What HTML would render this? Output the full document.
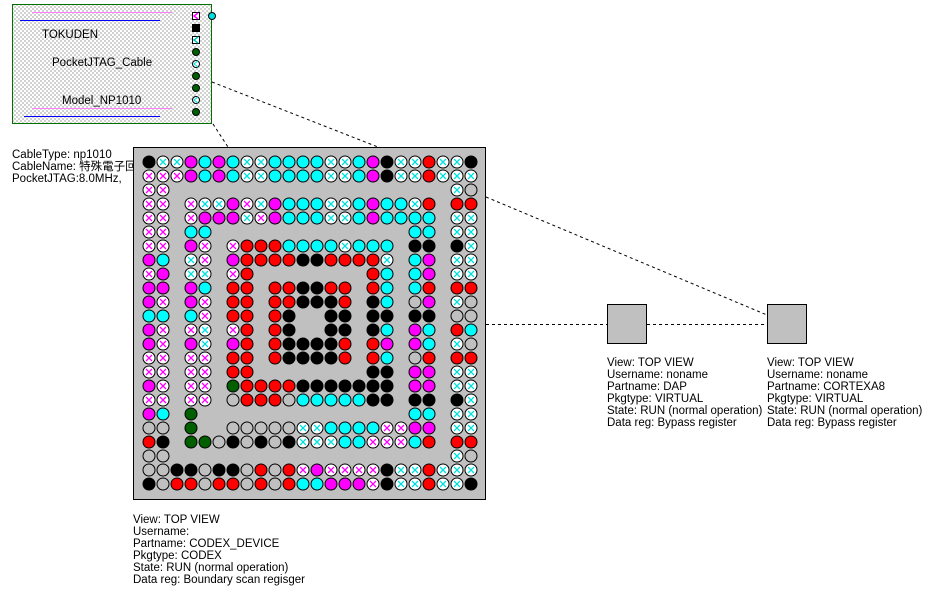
<!DOCTYPE html>
<html><head><meta charset="utf-8">
<style>
html,body{margin:0;padding:0;background:#fff;}
svg{display:block;}
text{font-family:"Liberation Sans","Noto Sans CJK JP",sans-serif;font-size:11.5px;fill:#000;}
</style></head>
<body>
<svg id="s" width="926" height="591" viewBox="0 0 926 591" xmlns="http://www.w3.org/2000/svg">
<defs>
<pattern id="hatch" width="4" height="4" patternUnits="userSpaceOnUse">
<rect width="4" height="4" fill="#fff"/>
<rect x="0" y="0" width="2" height="2" fill="#d0d0d0"/>
<rect x="2" y="2" width="2" height="2" fill="#d0d0d0"/>
</pattern>
</defs>
<!-- left text -->
<text x="12" y="158">CableType: np1010</text>
<text x="12" y="170">CableName: 特殊電子回路</text>
<text x="12" y="182">PocketJTAG:8.0MHz,</text>
<!-- cable box -->
<rect x="12.5" y="4.5" width="199" height="119" fill="url(#hatch)" stroke="#007000" stroke-width="1"/>
<line x1="32" y1="12.5" x2="172" y2="12.5" stroke="#ff80ff"/>
<line x1="20" y1="20.5" x2="160" y2="20.5" stroke="#0000ff"/>
<line x1="32" y1="108.5" x2="172" y2="108.5" stroke="#ff80ff"/>
<line x1="24" y1="116.5" x2="160" y2="116.5" stroke="#0000ff"/>
<text x="42" y="38">TOKUDEN</text>
<text x="52" y="66">PocketJTAG_Cable</text>
<text x="62" y="104">Model_NP1010</text>
<rect x="192.5" y="12.5" width="7" height="7" fill="#fff" stroke="#000"/>
<path d="M198 13 L194 16 L198 19" stroke="#ff00ff" fill="none" stroke-width="1.5"/>
<rect x="192.5" y="24.5" width="7" height="7" fill="#000" stroke="#000"/>
<rect x="192.5" y="36.5" width="7" height="7" fill="#fff" stroke="#000"/>
<path d="M198 37 L194 40 L198 43" stroke="#00c0c0" fill="none" stroke-width="1.5"/>
<circle cx="196" cy="52" r="3.5" fill="#006000" stroke="#000"/>
<circle cx="196" cy="64" r="3.5" fill="#fff" stroke="#000"/>
<path d="M198 61 L194 64 L198 67" stroke="#00e0e0" fill="none"/>
<circle cx="196" cy="76" r="3.5" fill="#006000" stroke="#000"/>
<circle cx="196" cy="88" r="3.5" fill="#006000" stroke="#000"/>
<circle cx="196" cy="100" r="3.5" fill="#fff" stroke="#000"/>
<path d="M198 97 L194 100 L198 103" stroke="#00e0e0" fill="none"/>
<circle cx="196" cy="112" r="3.5" fill="#006000" stroke="#000"/>
<circle cx="212" cy="16" r="3.5" fill="#00e0e0" stroke="#000"/>
<!-- dashed connectors -->
<g stroke="#000" stroke-dasharray="3,3" fill="none">
<line x1="212" y1="82" x2="378" y2="147"/>
<line x1="213" y1="124" x2="228" y2="147"/>
<line x1="486" y1="197" x2="767" y2="315"/>
<line x1="486" y1="324.5" x2="607" y2="324.5"/>
<line x1="647" y1="324.5" x2="767" y2="324.5"/>
</g>
<!-- chip -->
<rect x="133.5" y="147.5" width="352" height="352" fill="#c0c0c0" stroke="#000"/>
<g id="pins"></g>
<!-- virtual boxes -->
<rect x="607.5" y="304.5" width="39" height="39" fill="#c0c0c0" stroke="#000"/>
<rect x="767.5" y="304.5" width="39" height="39" fill="#c0c0c0" stroke="#000"/>
<text x="607" y="366">View: TOP VIEW</text>
<text x="607" y="378">Username: noname</text>
<text x="607" y="390">Partname: DAP</text>
<text x="607" y="402">Pkgtype: VIRTUAL</text>
<text x="607" y="414">State: RUN (normal operation)</text>
<text x="607" y="426">Data reg: Bypass register</text>
<text x="767" y="366">View: TOP VIEW</text>
<text x="767" y="378">Username: noname</text>
<text x="767" y="390">Partname: CORTEXA8</text>
<text x="767" y="402">Pkgtype: VIRTUAL</text>
<text x="767" y="414">State: RUN (normal operation)</text>
<text x="767" y="426">Data reg: Bypass register</text>
<text x="133" y="523">View: TOP VIEW</text>
<text x="133" y="535">Username:</text>
<text x="133" y="547">Partname: CODEX_DEVICE</text>
<text x="133" y="559">Pkgtype: CODEX</text>
<text x="133" y="571">State: RUN (normal operation)</text>
<text x="133" y="583">Data reg: Boundary scan regisger</text>
</svg>
<script>
var rows=[
"KccMCMCccCCCCccCMKccRccK",
"mmmMCMCccCCCCccCMKccRccc",
"mm....................cW",
"mm.mccMmcMCCCccCMCCcR.RR",
"mm.mMMMcmMCCCccCMCCCC.cc",
"mm.CC..............CC.cc",
"mm.Mm.mRRRCCCCcCCC.KK.Kc",
"MC.cm.MRRRRKKRRRRc.CM.cc",
"mM.cc.mR........RC.CM.cc",
"MM.MC.RR.RRKKRR.RC.CR.RR",
"Mm.Mm.RR.RRKKKR.KC.WM.cW",
"CC.Cm.RR.RK..KK.KK.KK.WW",
"Mm.mc.mR.RK..KK.KC.MC.RC",
"Mm.Mc.MR.RKKKKR.RM.MC.cW",
"mm.mm.RR.RKKKKR.RC.WR.RR",
"mm.mm.RR........KK.MM.cc",
"Mm.mm.GRRRRKKKKKKK.MM.cc",
"mm.mm.WRRRWCCCCCKK.KK.Kc",
"MC.G...............CC.cc",
"WW.G..WWWWWccCCCCmmMM.cc",
"RK.GGWKWKWKcccCCmmmCR.RR",
"WW....................cW",
"WWKKWKKWRWRmMmmmmKccRccc",
"KWRRWRRWRWRCCMMMmKccRccK"];
var col={K:"#000",C:"#00ffff",M:"#ff00ff",R:"#ff0000",G:"#006000",W:"none"};
var h="";
for(var r=0;r<24;r++){for(var c=0;c<24;c++){var t=rows[r][c];if(t==".")continue;
var x=149+14*c,y=162+14*r;
if(t=="m"||t=="c"){var s=t=="m"?"#ff00ff":"#00e0e0";
h+='<circle cx="'+x+'" cy="'+y+'" r="6" fill="#fff" stroke="#000"/>';
h+='<path d="M'+(x-3)+' '+(y-3)+'L'+(x+3)+' '+(y+3)+'M'+(x+3)+' '+(y-3)+'L'+(x-3)+' '+(y+3)+'" stroke="'+s+'" stroke-width="1.3"/>';}
else h+='<circle cx="'+x+'" cy="'+y+'" r="6" fill="'+col[t]+'" stroke="#000"/>';}}
document.getElementById("pins").innerHTML=h;
</script>
</body></html>
